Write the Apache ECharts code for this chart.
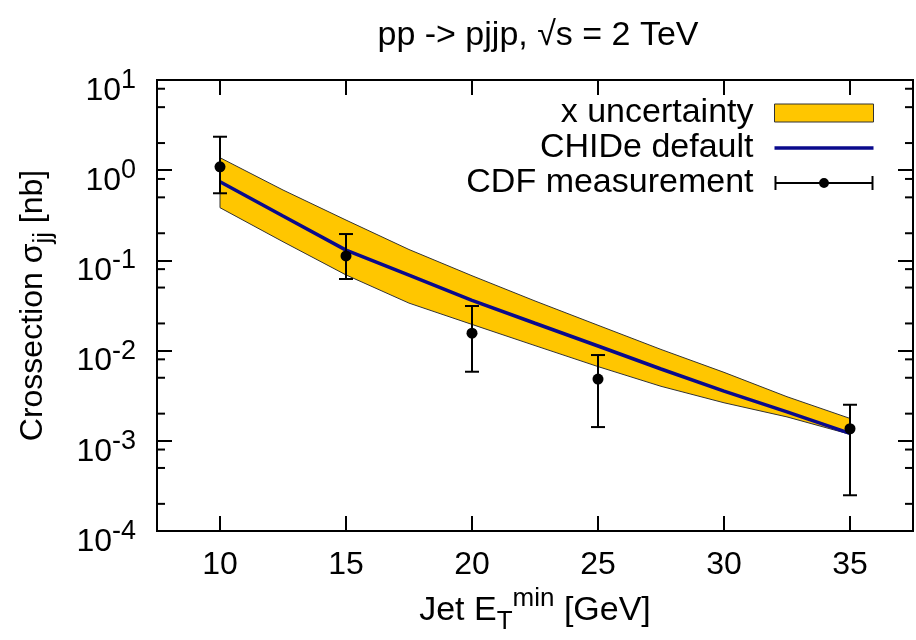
<!DOCTYPE html>
<html><head><meta charset="utf-8">
<script src="https://cdn.jsdelivr.net/npm/echarts@6/dist/echarts.min.js"></script>
<style>html,body{margin:0;padding:0;background:#fff}#c{width:916px;height:640px}</style>
</head><body><div id="c"></div>
<script>
// ---- data ----
const titleText = 'pp -> pjjp, \u221As = 2 TeV';
const seriesNames = ['x uncertainty', 'CHIDe default', 'CDF measurement'];
const curveX = [10, 12.5, 15, 17.5, 20, 22.5, 25, 27.5, 30, 32.5, 35];
const chideY = [0.746, 0.311, 0.13, 0.0686, 0.0361, 0.0201, 0.01125, 0.00625, 0.00355, 0.00209, 0.00121];
const bandUpper = [1.376, 0.603, 0.28, 0.132, 0.0676, 0.0355, 0.0191, 0.0103, 0.00574, 0.00308, 0.00177];
const bandLower = [0.384, 0.161, 0.069, 0.0336, 0.0195, 0.01136, 0.00665, 0.00402, 0.00264, 0.00184, 0.00118];
const cdfX = [10, 15, 20, 25, 35];
const cdfY = [1.09, 0.112, 0.0156, 0.00484, 0.00136];
const cdfLow = [0.555, 0.0622, 0.00583, 0.00142, 0.000249];
const cdfHigh = [2.35, 0.196, 0.0312, 0.00893, 0.00251];
const xTickValues = [10, 15, 20, 25, 30, 35];
const yTickValues = [1e-4, 1e-3, 1e-2, 1e-1, 1, 10];
const yMinorTicks = [2e-4, 5e-4, 8e-4, 2e-3, 5e-3, 8e-3, 2e-2, 5e-2, 8e-2, 0.2, 0.5, 0.8, 2, 5, 8];

// ---- style ----
const FONT = '"Liberation Sans", Arial, Helvetica, sans-serif';
const BAND = '#FFC600';
const BLUE = '#0a0a8c';

const chart = echarts.init(document.getElementById('c'), null, {renderer: 'canvas'});

const tickStyle = {inside: true, length: 15, lineStyle: {color: '#000', width: 2}};

const option = {
  animation: false,
  backgroundColor: '#fff',
  title: {
    text: titleText, left: 533, top: 14, textAlign: 'center',
    textStyle: {fontFamily: FONT, fontSize: 34, fontWeight: 'normal', color: '#000'}
  },
  grid: {left: 157, right: 3, top: 80, bottom: 109, show: true, borderColor: '#000', borderWidth: 2, backgroundColor: 'transparent'},
  legend: {
    data: [
      {name: seriesNames[0], icon: 'rect', itemStyle: {color: BAND, borderColor: '#333', borderWidth: 1}},
      {name: seriesNames[1], icon: 'path://M0,0h100v3.5h-100z', itemStyle: {color: BLUE}},
      {name: seriesNames[2], icon: 'path://M0,2h2v6h96v-6h2v14h-2v-6h-96v6h-2z M45,9a5,5 0 1,1 10,0a5,5 0 1,1 -10,0z', itemStyle: {color: '#000'}}
    ],
    orient: 'vertical', align: 'right', right: 37, top: 91,
    itemWidth: 99, itemHeight: 18, itemGap: 1, selectedMode: false,
    textStyle: {fontFamily: FONT, fontSize: 34, color: '#000', padding: [0, 16, 0, 0]}
  },
  xAxis: [
    {
      type: 'value', min: 7.5, max: 37.5, position: 'bottom',
      axisLine: {show: false}, splitLine: {show: false},
      axisTick: Object.assign({customValues: xTickValues}, tickStyle),
      axisLabel: {customValues: xTickValues, fontFamily: FONT, fontSize: 32, color: '#000', margin: 18},
      name: '{b|Jet E}{sub|T}{sup|min}{b| [GeV]}', nameLocation: 'middle', nameGap: 50,
      nameTextStyle: {
        rich: {
          b: {fontFamily: FONT, fontSize: 34, color: '#000', lineHeight: 49},
          sub: {fontFamily: FONT, fontSize: 26, color: '#000', verticalAlign: 'bottom'},
          sup: {fontFamily: FONT, fontSize: 26, color: '#000', verticalAlign: 'top'}
        }
      }
    },
    {
      type: 'value', min: 7.5, max: 37.5, position: 'top',
      axisLine: {show: false}, splitLine: {show: false},
      axisTick: Object.assign({customValues: xTickValues}, tickStyle),
      axisLabel: {show: false}
    }
  ],
  yAxis: [
    {
      type: 'log', logBase: 10, min: 1e-4, max: 10, position: 'left',
      axisLine: {show: false}, splitLine: {show: false}, minorTick: {show: false},
      axisTick: Object.assign({customValues: yTickValues}, tickStyle),
      axisLabel: {
        customValues: yTickValues, margin: 21, padding: [22, 0, 0, 0],
        formatter: function (v) { return '{b|10}{s|' + Math.round(Math.log10(v)) + '}'; },
        rich: {
          b: {fontFamily: FONT, fontSize: 32, color: '#000', lineHeight: 48},
          s: {fontFamily: FONT, fontSize: 27, color: '#000', verticalAlign: 'top'}
        }
      },
      name: '{b|Crossection \u03C3}{sub|jj}{b| [nb]}', nameLocation: 'middle', nameGap: 100, nameRotate: 90,
      nameTextStyle: {
        rich: {
          b: {fontFamily: FONT, fontSize: 32, color: '#000', lineHeight: 47},
          sub: {fontFamily: FONT, fontSize: 26, color: '#000', verticalAlign: 'bottom'}
        }
      }
    },
    {
      type: 'log', logBase: 10, min: 1e-4, max: 10, position: 'right',
      axisLine: {show: false}, splitLine: {show: false},
      axisTick: Object.assign({customValues: yTickValues}, tickStyle),
      axisLabel: {show: false}
    }
  ],
  series: [
    {
      name: seriesNames[0], type: 'custom', z: 1, silent: true,
      itemStyle: {color: BAND, borderColor: '#333', borderWidth: 1},
      data: [[curveX[0], bandUpper[0]]],
      renderItem: function (params, api) {
        const pts = [];
        for (let i = 0; i < curveX.length; i++) pts.push(api.coord([curveX[i], bandUpper[i]]));
        for (let i = curveX.length - 1; i >= 0; i--) pts.push(api.coord([curveX[i], bandLower[i]]));
        return {type: 'polygon', shape: {points: pts}, style: {fill: BAND, stroke: '#333', lineWidth: 1}};
      }
    },
    {
      name: seriesNames[1], type: 'line', z: 3, symbol: 'none', smooth: false, silent: true,
      color: BLUE, lineStyle: {color: BLUE, width: 3.5},
      data: curveX.map(function (x, i) { return [x, chideY[i]]; })
    },
    {
      name: seriesNames[2], type: 'custom', z: 4, silent: true,
      itemStyle: {color: '#000'},
      encode: {x: 0, y: [1, 2, 3]},
      data: cdfX.map(function (x, i) { return [x, cdfY[i], cdfLow[i], cdfHigh[i]]; }),
      renderItem: function (params, api) {
        const x = api.value(0);
        const p = api.coord([x, api.value(1)]);
        const lo = api.coord([x, api.value(2)]);
        const hi = api.coord([x, api.value(3)]);
        const cw = 7;
        const st = {stroke: '#000', lineWidth: 2};
        return {type: 'group', children: [
          {type: 'line', shape: {x1: lo[0], y1: lo[1], x2: hi[0], y2: hi[1]}, style: st},
          {type: 'line', shape: {x1: lo[0] - cw, y1: lo[1], x2: lo[0] + cw, y2: lo[1]}, style: st},
          {type: 'line', shape: {x1: hi[0] - cw, y1: hi[1], x2: hi[0] + cw, y2: hi[1]}, style: st},
          {type: 'circle', shape: {cx: p[0], cy: p[1], r: 5.5}, style: {fill: '#000'}}
        ]};
      }
    },
    {
      name: 'minorTicks', type: 'custom', z: 5, silent: true, clip: false,
      data: yMinorTicks.map(function (v) { return [10, v]; }),
      renderItem: function (params, api) {
        const cs = params.coordSys;
        const y = api.coord([api.value(0), api.value(1)])[1];
        const st = {stroke: '#000', lineWidth: 2};
        return {type: 'group', children: [
          {type: 'line', shape: {x1: cs.x, y1: y, x2: cs.x + 8, y2: y}, style: st},
          {type: 'line', shape: {x1: cs.x + cs.width, y1: y, x2: cs.x + cs.width - 8, y2: y}, style: st}
        ]};
      }
    }
  ]
};
chart.setOption(option);
</script>
</body></html>
